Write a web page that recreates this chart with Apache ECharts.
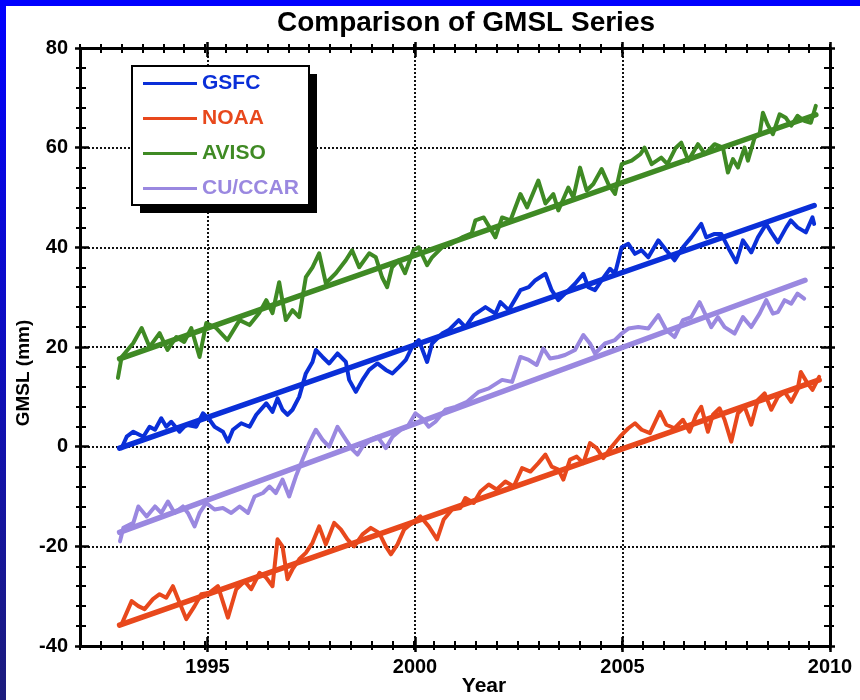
<!DOCTYPE html>
<html><head><meta charset="utf-8">
<script src="https://cdn.jsdelivr.net/npm/echarts@6/dist/echarts.min.js"></script>
<style>html,body{margin:0;padding:0;background:#fff}#c{width:860px;height:700px}</style>
</head><body><div id="c"></div>
<script>
// ---------------- DATA ----------------
const seriesNames = ['GSFC', 'NOAA', 'AVISO', 'CU/CCAR'];

const gsfcYears = [1993.0,1993.12,1993.28,1993.52,1993.67,1993.8,1993.95,1994.07,1994.19,1994.39,1994.55,1994.79,1994.95,1995.11,1995.23,1995.43,1995.55,1995.67,1995.87,1996.07,1996.23,1996.47,1996.62,1996.74,1996.86,1996.98,1997.1,1997.26,1997.42,1997.58,1997.66,1997.82,1997.98,1998.18,1998.38,1998.46,1998.62,1998.78,1998.94,1999.14,1999.34,1999.5,1999.66,1999.82,1999.97,2000.13,2000.33,2000.45,2000.69,2000.85,2001.09,2001.25,2001.45,2001.73,2001.97,2002.09,2002.29,2002.57,2002.77,2002.93,2003.17,2003.32,2003.48,2003.64,2003.88,2004.08,2004.2,2004.36,2004.52,2004.72,2004.84,2005.0,2005.16,2005.32,2005.48,2005.64,2005.88,2006.07,2006.27,2006.47,2006.67,2006.91,2007.03,2007.23,2007.39,2007.59,2007.75,2007.91,2008.11,2008.27,2008.47,2008.59,2008.75,2008.95,2009.06,2009.22,2009.42,2009.58,2009.62];
const gsfcVals  = [-0.3,2,3,2,4,3.4,5.7,4,5,3,4.4,4,6.7,5.4,4,3,1,3.4,4.7,4,6.4,8.7,7,9.7,7.4,6.4,7.4,10,14.7,17,19.4,18,16.7,18.7,17,13.4,11,13.4,15.4,16.7,15.4,14.7,16,17.4,20,21.4,17,20.7,22.7,23.4,25.4,24,26.4,28,26.7,29,27.4,31.4,32,33.4,34.7,31.4,29.4,30.7,32.7,34.7,32,31.4,33.4,35.7,34.7,40,40.7,38.7,39.4,38,41.4,39.4,37.4,40,42,44.7,42,42.7,42.7,39.4,37,41.4,39,42,44.7,43,41,44,45.4,44,43,46,44.7];

const noaaYears = [1993.0,1993.12,1993.24,1993.4,1993.55,1993.75,1993.91,1994.07,1994.23,1994.39,1994.55,1994.75,1994.91,1995.11,1995.31,1995.55,1995.75,1995.95,1996.11,1996.31,1996.47,1996.62,1996.74,1996.86,1996.98,1997.1,1997.26,1997.42,1997.58,1997.74,1997.9,1998.1,1998.26,1998.42,1998.58,1998.78,1998.98,1999.18,1999.34,1999.46,1999.62,1999.78,1999.97,2000.17,2000.37,2000.57,2000.73,2000.93,2001.13,2001.25,2001.45,2001.61,2001.81,2002.0,2002.21,2002.41,2002.61,2002.81,2003.0,2003.17,2003.32,2003.48,2003.6,2003.76,2003.92,2004.08,2004.24,2004.4,2004.56,2004.76,2004.96,2005.16,2005.32,2005.48,2005.68,2005.92,2006.07,2006.27,2006.47,2006.63,2006.79,2006.91,2007.07,2007.19,2007.35,2007.47,2007.63,2007.79,2007.95,2008.11,2008.27,2008.43,2008.59,2008.75,2008.91,2009.07,2009.22,2009.3,2009.46,2009.58,2009.74];
const noaaVals  = [-35.6,-33.3,-31,-32,-32.6,-30.6,-29.6,-30.3,-28,-31.3,-34.6,-32,-29.6,-29.3,-28,-34.3,-28.6,-27,-28.6,-25.3,-26.3,-28,-18.6,-20,-26.6,-24.6,-22.6,-21.3,-19.3,-16,-19.6,-15.3,-16.6,-18.6,-20,-17.6,-16.3,-17.3,-20,-21.6,-19.6,-16.6,-15.3,-14,-16,-18.6,-14.6,-12.6,-12.3,-10.3,-11.3,-9,-7.6,-8.6,-7,-8,-4.3,-5,-3.3,-1.6,-4,-4.6,-6.6,-2.6,-2,-3.3,0.7,-0.3,-2.3,0,2,3.7,4.7,3.4,2.7,7,4.4,3.7,5.4,3,6.4,8,3,6.4,7.7,5.4,1,6.7,8,4.4,9.4,10.7,7.4,10,11,9,11.4,15,12.7,11.4,14];

const avisoYears = [1992.91,1993.0,1993.28,1993.48,1993.67,1993.91,1994.1,1994.31,1994.5,1994.67,1994.87,1995.03,1995.27,1995.54,1995.83,1996.07,1996.3,1996.47,1996.62,1996.78,1996.94,1997.1,1997.26,1997.42,1997.58,1997.74,1997.9,1998.14,1998.38,1998.53,1998.7,1998.94,1999.1,1999.25,1999.37,1999.49,1999.65,1999.8,2000.0,2000.13,2000.33,2000.45,2000.69,2000.93,2001.17,2001.4,2001.49,2001.69,2001.97,2002.13,2002.33,2002.57,2002.73,2003.0,2003.17,2003.36,2003.48,2003.72,2003.84,2004.0,2004.16,2004.32,2004.52,2004.68,2004.84,2005.0,2005.24,2005.45,2005.55,2005.72,2005.95,2006.1,2006.3,2006.43,2006.6,2006.83,2007.0,2007.23,2007.43,2007.55,2007.67,2007.79,2007.95,2008.03,2008.19,2008.31,2008.39,2008.5,2008.63,2008.79,2008.94,2009.07,2009.22,2009.38,2009.54,2009.66];
const avisoVals  = [13.8,18,20.8,23.8,20,22.8,19.4,22,21,23.8,18,24.8,23.8,21.4,25.4,24.4,26.8,29.4,26.8,33,25.4,27.4,26,34,36,38.8,32.8,34.8,37.4,39.4,36,38.8,38,34,32,36,37.4,34.8,39.4,40,36.4,38,40,40.8,42,42.8,45.4,46,42,46,45.4,50.7,48,53.4,48.8,50.7,47.4,52,50,56,51.4,52.7,55.7,52.7,50.7,56.7,57.4,58.7,60,56.7,58,56.7,60,61,57.4,60.7,58.7,60.7,60,55,57.7,56,60,57.4,62,62.7,67,64.7,62.7,66.7,66,64.4,66.4,65.4,65,68.4];

const ccarYears = [1992.96,1993.04,1993.28,1993.4,1993.6,1993.8,1993.95,1994.11,1994.27,1994.47,1994.59,1994.75,1994.87,1995.03,1995.23,1995.43,1995.63,1995.83,1996.03,1996.19,1996.39,1996.55,1996.7,1996.86,1997.02,1997.18,1997.34,1997.5,1997.66,1997.82,1997.98,1998.18,1998.38,1998.54,1998.66,1998.78,1998.98,1999.14,1999.34,1999.5,1999.7,1999.86,2000.05,2000.21,2000.37,2000.53,2000.77,2001.01,2001.29,2001.57,2001.81,2002.13,2002.37,2002.57,2002.77,2002.96,2003.12,2003.28,2003.48,2003.64,2003.88,2004.08,2004.24,2004.36,2004.6,2004.84,2005.0,2005.16,2005.4,2005.64,2005.88,2006.07,2006.27,2006.47,2006.67,2006.87,2007.0,2007.15,2007.31,2007.47,2007.71,2007.91,2008.11,2008.31,2008.47,2008.63,2008.75,2008.91,2009.07,2009.22,2009.38];
const ccarVals  = [-19,-16.3,-15.3,-12,-14,-12,-13.3,-11,-13.3,-12,-13.3,-16,-13.3,-11.3,-12.6,-12.3,-13.3,-12,-13.3,-10,-9.3,-8,-9.3,-6.6,-10,-6,-2.6,0.7,3.4,1.4,0,4,1.4,-0.6,-1.6,0,1.4,2,-0.3,2,3.4,4,6.7,5.7,4,5,7.4,8,9,11,11.7,13.4,13,18,17.4,16.4,19.7,17.7,18,18.4,19.4,22.4,20.7,18.7,20.7,21.4,22.7,23.7,24,23.7,26.4,23.4,22,25.4,26,29,26.7,24,26,24,22.7,26,24,26.7,29.4,26.7,27,29.4,28.7,30.7,29.7];

// linear trend lines: [start, end]
const gsfcTrendYears  = [1992.95, 2009.62];
const gsfcTrendVals   = [-0.3, 48.4];
const noaaTrendYears  = [1992.95, 2009.74];
const noaaTrendVals   = [-35.8, 13.4];
const avisoTrendYears = [1992.95, 2009.66];
const avisoTrendVals  = [17.6, 66.6];
const ccarTrendYears  = [1992.95, 2009.4];
const ccarTrendVals   = [-17.2, 33.4];

const yTicks = [-40, -20, 0, 20, 40, 60, 80];
const xTickLabels = [1995, 2000, 2005, 2010];

// ---------------- STYLE ----------------
const colors = ['#0a2fd8', '#e8481c', '#3f8a24', '#9a88e0'];
const FONT = "'Liberation Sans', Arial, sans-serif";
const zip = (xs, ys) => xs.map((x, i) => [x, ys[i]]);

const raw = [zip(gsfcYears, gsfcVals), zip(noaaYears, noaaVals), zip(avisoYears, avisoVals), zip(ccarYears, ccarVals)];
const trends = [zip(gsfcTrendYears, gsfcTrendVals), zip(noaaTrendYears, noaaTrendVals), zip(avisoTrendYears, avisoTrendVals), zip(ccarTrendYears, ccarTrendVals)];

const PX_PER_YEAR = 750 / 18;
const GRID = { top: 48, bottom: 54, right: 30 };

function minorX(pos, inside, line) {
  return {
    type: 'value', gridIndex: 0, position: pos, min: 1992, max: 2010, interval: 0.5,
    axisLine: { show: line, onZero: false, lineStyle: { color: '#000', width: 3 } },
    axisTick: { show: true, inside: inside, length: inside ? 5 : 4, lineStyle: { color: '#000', width: 2 } },
    axisLabel: { show: false }, splitLine: { show: false }
  };
}
function majorX(pos, inside, labels) {
  return {
    type: 'value', gridIndex: 1, position: pos, min: 1990, max: 2010, interval: 5,
    axisLine: { show: false, onZero: false },
    axisTick: { show: true, inside: inside, length: inside ? 9 : 6, lineStyle: { color: '#000', width: 2.5 } },
    axisLabel: labels ? { show: true, showMinLabel: false, margin: 11, color: '#000', fontSize: 20, fontWeight: 'bold', fontFamily: FONT,
      formatter: v => (xTickLabels.indexOf(v) >= 0 ? String(v) : '') } : { show: false },
    splitLine: labels ? { show: true, lineStyle: { color: '#111', width: 2, type: [2, 2] } } : { show: false }
  };
}
function yAx(pos, inside, line, labels) {
  return {
    type: 'value', gridIndex: 0, position: pos, min: yTicks[0], max: yTicks[yTicks.length - 1], interval: 20,
    axisLine: { show: line, onZero: false, lineStyle: { color: '#000', width: 3 } },
    axisTick: { show: true, inside: inside, length: inside ? 9 : 5, lineStyle: { color: '#000', width: 2.5 } },
    minorTick: { show: true, splitNumber: 5, length: inside ? 6 : 4, lineStyle: { color: '#000', width: 2 } },
    axisLabel: labels ? { show: true, margin: 12, color: '#000', fontSize: 20, fontWeight: 'bold', fontFamily: FONT } : { show: false },
    splitLine: labels ? { show: true, lineStyle: { color: '#111', width: 2, type: [2, 2] } } : { show: false }
  };
}

const series = [];
seriesNames.forEach((n, i) => {
  series.push({
    type: 'line', name: n, xAxisIndex: 0, yAxisIndex: 0, data: raw[i],
    symbol: 'none', showSymbol: false, animation: false, z: 3,
    lineStyle: { color: colors[i], width: 4, join: 'round', cap: 'round' }, itemStyle: { color: colors[i] }
  });
  series.push({
    type: 'line', name: n, xAxisIndex: 0, yAxisIndex: 0, data: trends[i],
    symbol: 'none', showSymbol: false, animation: false, z: 4,
    lineStyle: { color: colors[i], width: 5.5, cap: 'round' }, itemStyle: { color: colors[i] }
  });
});

const chart = echarts.init(document.getElementById('c'), null, { renderer: 'canvas' });
chart.setOption({
  backgroundColor: '#ffffff',
  animation: false,
  grid: [
    { left: 80, right: GRID.right, top: GRID.top, bottom: GRID.bottom },
    { left: 80 - 2 * PX_PER_YEAR, right: GRID.right, top: GRID.top, bottom: GRID.bottom }
  ],
  xAxis: [
    minorX('bottom', true, true), minorX('bottom', false, false),
    minorX('top', true, true), minorX('top', false, false),
    majorX('bottom', true, true), majorX('bottom', false, false),
    majorX('top', true, false), majorX('top', false, false)
  ],
  yAxis: [
    yAx('left', true, true, true), yAx('left', false, false, false),
    yAx('right', true, true, false), yAx('right', false, false, false),
    { type: 'value', gridIndex: 1, min: -40, max: 80, show: false }
  ],
  legend: {
    left: 132, top: 66, orient: 'vertical', selectedMode: false, z: 10,
    data: seriesNames.map((n, i) => ({ name: n, icon: 'rect', itemStyle: { color: colors[i], borderWidth: 0 }, textStyle: { color: colors[i] } })),
    itemWidth: 54, itemHeight: 3, itemGap: 12,
    padding: [6, 10, 6, 11],
    backgroundColor: 'transparent', borderWidth: 0,
    textStyle: { fontSize: 21, fontWeight: 'bold', fontFamily: FONT, lineHeight: 23 }
  },
  graphic: [
    { type: 'rect', shape: { x: 0, y: 0, width: 860, height: 6 }, style: { fill: '#0000ff' }, z: 100 },
    { type: 'rect', shape: { x: 0, y: 0, width: 6, height: 700 }, z: 100,
      style: { fill: new echarts.graphic.LinearGradient(0, 0, 0, 1, [{ offset: 0, color: '#0000ff' }, { offset: 1, color: '#1c1c7c' }]) } },
    // legend frame with drop shadow
    { type: 'rect', shape: { x: 140, y: 74, width: 177, height: 139 }, style: { fill: '#000' }, z: 2 },
    { type: 'rect', shape: { x: 132, y: 66, width: 177, height: 139 }, style: { fill: '#fff', stroke: '#000', lineWidth: 2 }, z: 2 },
    { type: 'text', x: 466, y: 23, z: 100, style: { text: 'Comparison of GMSL Series', align: 'center', verticalAlign: 'middle', font: "bold 28px 'Liberation Sans', Arial, sans-serif", fill: '#000' } },
    { type: 'text', x: 484, y: 686, z: 100, style: { text: 'Year', align: 'center', verticalAlign: 'middle', font: "bold 21px 'Liberation Sans', Arial, sans-serif", fill: '#000' } },
    { type: 'text', x: 24, y: 373, rotation: Math.PI / 2, z: 100, style: { text: 'GMSL (mm)', align: 'center', verticalAlign: 'middle', font: "bold 19px 'Liberation Sans', Arial, sans-serif", fill: '#000' } }
  ],
  series: series
});
</script>
</body></html>
